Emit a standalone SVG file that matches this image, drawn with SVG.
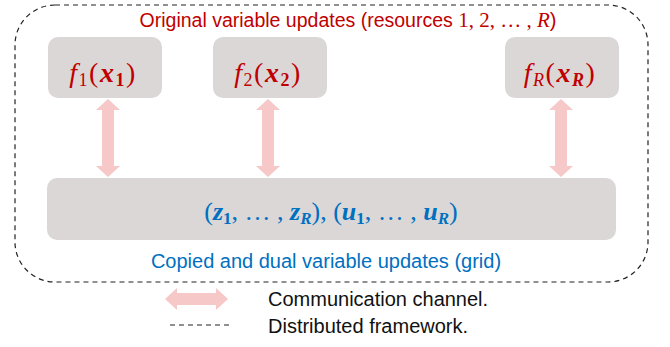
<svg xmlns="http://www.w3.org/2000/svg" width="670" height="347" viewBox="0 0 670 347">
<style>
.box{fill:#dbd7d7}
.arr{fill:#f7c8c8}
.sans{font-family:"Liberation Sans",Arial,sans-serif}
.m{font-family:"Liberation Serif","Times New Roman",serif}
.red{fill:#c00000}
.blue{fill:#0070c0}
.bi{font-weight:bold;font-style:italic}
.it{font-style:italic}
</style>
<rect x="15" y="5" width="633" height="277" rx="40" ry="40" fill="none" stroke="#222" stroke-width="1.2" stroke-dasharray="5,4"/>
<text x="348" y="27" text-anchor="middle" class="sans red" font-size="19.5">Original variable updates (resources <tspan class="m" font-size="21">1, 2, … , </tspan><tspan class="m it" font-size="21">R</tspan><tspan font-size="20">)</tspan></text>
<g id="node-f1">
<rect class="box" x="48" y="37" width="114" height="61" rx="10"/>
<text x="103" y="82" text-anchor="middle" class="m red" font-size="28" letter-spacing="1.5"><tspan class="it">f</tspan><tspan font-size="18" dy="4">1</tspan><tspan dy="-4">(</tspan><tspan class="bi">x</tspan><tspan font-weight="bold" font-size="18" dy="4">1</tspan><tspan dy="-4">)</tspan></text>
</g>
<g id="node-f2">
<rect class="box" x="213" y="37" width="114" height="61" rx="10"/>
<text x="268" y="82" text-anchor="middle" class="m red" font-size="28" letter-spacing="1.5"><tspan class="it">f</tspan><tspan font-size="18" dy="4">2</tspan><tspan dy="-4">(</tspan><tspan class="bi">x</tspan><tspan font-weight="bold" font-size="18" dy="4">2</tspan><tspan dy="-4">)</tspan></text>
</g>
<g id="node-fR">
<rect class="box" x="505" y="37" width="114" height="61" rx="10"/>
<text x="560" y="82" text-anchor="middle" class="m red" font-size="28" letter-spacing="1.5"><tspan class="it">f</tspan><tspan class="it" font-size="18" dy="4">R</tspan><tspan dy="-4">(</tspan><tspan class="bi">x</tspan><tspan class="bi" font-size="18" dy="4">R</tspan><tspan dy="-4">)</tspan></text>
</g>
<g id="node-grid">
<rect class="box" x="47" y="178" width="569" height="62" rx="10"/>
<text x="331" y="220" text-anchor="middle" class="m blue" font-size="26">(<tspan class="bi">z</tspan><tspan font-weight="bold" font-size="17" dy="4">1</tspan><tspan dy="-4">, … , </tspan><tspan class="bi">z</tspan><tspan class="bi" font-size="17" dy="4">R</tspan><tspan dy="-4">), (</tspan><tspan class="bi">u</tspan><tspan font-weight="bold" font-size="17" dy="4">1</tspan><tspan dy="-4">, … , </tspan><tspan class="bi">u</tspan><tspan class="bi" font-size="17" dy="4">R</tspan><tspan dy="-4">)</tspan></text>
<text x="326" y="268" text-anchor="middle" class="sans blue" font-size="20">Copied and dual variable updates (grid)</text>
</g>
<g id="connectors">
<polygon class="arr" points="108,99 120,110 114,110 114,166 120,166 108,177 96,166 102,166 102,110 96,110"/>
<polygon class="arr" points="268,99 280,110 274,110 274,166 280,166 268,177 256,166 262,166 262,110 256,110"/>
<polygon class="arr" points="561,99 573,110 567,110 567,166 573,166 561,177 549,166 555,166 555,110 549,110"/>
</g>
<g id="legend">
<polygon class="arr" points="165,299 177,288 177,293 216,293 216,288 228,299 216,310 216,305 177,305 177,310"/>
<line x1="170" y1="325" x2="233" y2="325" stroke="#222" stroke-width="1.2" stroke-dasharray="5,4"/>
<text x="268" y="306" class="sans" font-size="20" fill="#111">Communication channel.</text>
<text x="268" y="333" class="sans" font-size="20" fill="#111">Distributed framework.</text>
</g>
</svg>
